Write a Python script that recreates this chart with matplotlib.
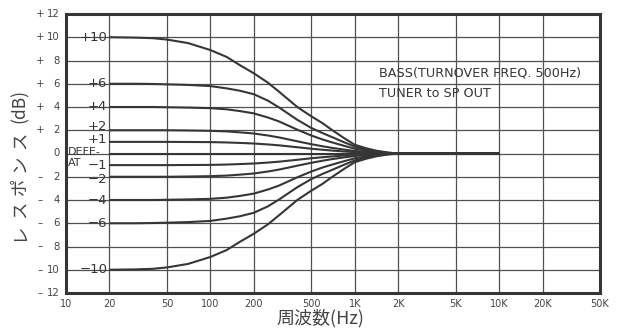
import matplotlib
matplotlib.use("Agg")
import matplotlib.pyplot as plt

# Bass tone-control response, turnover 500 Hz, TUNER -> SP OUT
freqs = [20, 30, 40, 50, 70, 100, 130, 160, 200, 250, 300, 400, 500, 600,
         700, 850, 1000, 1200, 1400, 1700, 2000, 10000]
boost_10 = [10, 9.97, 9.92, 9.8, 9.5, 8.9, 8.3, 7.6, 6.9, 6.1, 5.3, 4.0, 3.2, 2.6,
            2.0, 1.3, 0.75, 0.45, 0.25, 0.08, 0, 0]
boost_6 = [6, 6, 5.98, 5.95, 5.9, 5.8, 5.6, 5.4, 5.1, 4.55, 3.95, 2.9, 2.2, 1.75,
           1.4, 0.95, 0.6, 0.35, 0.18, 0.06, 0, 0]
boost_4 = [4, 4, 4, 3.98, 3.95, 3.9, 3.8, 3.65, 3.45, 3.1, 2.75, 2.05, 1.55, 1.2,
           0.95, 0.65, 0.42, 0.25, 0.13, 0.04, 0, 0]
boost_2 = [2, 2, 2, 2, 1.98, 1.95, 1.9, 1.82, 1.72, 1.55, 1.38, 1.05, 0.8, 0.62,
           0.48, 0.33, 0.22, 0.13, 0.07, 0.02, 0, 0]
boost_1 = [1, 1, 1, 1, 0.99, 0.98, 0.95, 0.91, 0.86, 0.78, 0.7, 0.54, 0.41, 0.32,
           0.25, 0.17, 0.11, 0.07, 0.04, 0.01, 0, 0]
defeat = [0, 0, 0, 0, 0, 0, 0, 0, 0, 0, 0, 0, 0, 0, 0, 0, 0, 0, 0, 0, 0, 0]
cut_1 = [-1, -1, -1, -1, -0.99, -0.98, -0.95, -0.91, -0.86, -0.78, -0.7, -0.54, -0.41,
         -0.32, -0.25, -0.17, -0.11, -0.07, -0.04, -0.01, 0, 0]
cut_2 = [-2, -2, -2, -2, -1.98, -1.95, -1.9, -1.82, -1.72, -1.55, -1.38, -1.05, -0.8,
         -0.62, -0.48, -0.33, -0.22, -0.13, -0.07, -0.02, 0, 0]
cut_4 = [-4, -4, -4, -3.98, -3.95, -3.9, -3.8, -3.65, -3.45, -3.1, -2.75, -2.05, -1.55,
         -1.2, -0.95, -0.65, -0.42, -0.25, -0.13, -0.04, 0, 0]
cut_6 = [-6, -6, -5.98, -5.95, -5.9, -5.8, -5.6, -5.4, -5.1, -4.55, -3.95, -2.9, -2.2,
         -1.75, -1.4, -0.95, -0.6, -0.35, -0.18, -0.06, 0, 0]
cut_10 = [-10, -9.97, -9.92, -9.8, -9.5, -8.9, -8.3, -7.6, -6.9, -6.1, -5.3, -4.0, -3.2,
          -2.6, -2.0, -1.3, -0.75, -0.45, -0.25, -0.08, 0, 0]
curves = [boost_10, boost_6, boost_4, boost_2, boost_1, defeat,
          cut_1, cut_2, cut_4, cut_6, cut_10]

# curve labels and their vertical positions (dB)
label_text = ["+10", "+6", "+4", "+2", "+1", "\u22121", "\u22122", "\u22124", "\u22126", "\u221210"]
label_pos = [10, 6, 4, 2.35, 1.2, -1, -2.2, -4, -6, -10]

x_ticks = [10, 20, 50, 100, 200, 500, 1000, 2000, 5000, 10000, 20000, 50000]
x_ticklabels = ["10", "20", "50", "100", "200", "500", "1K", "2K", "5K", "10K", "20K", "50K"]
y_ticks = [12, 10, 8, 6, 4, 2, 0, -2, -4, -6, -8, -10, -12]

ink = "#363636"
grid = "#505050"
textc = "#444444"
cjk = ["Noto Sans CJK JP", "DejaVu Sans"]

plt.rcParams["font.family"] = ["DejaVu Sans", "Noto Sans CJK JP"]

fig = plt.figure(figsize=(6.21, 3.34), dpi=100)
ax = fig.add_axes([66 / 621, 1 - 293 / 334, 534 / 621, 279 / 334])
ax.set_xscale("log")
ax.set_xlim(10, 50000)
ax.set_ylim(-12, 12)

for xv in x_ticks[1:-1]:
    ax.axvline(xv, color=grid, lw=0.9, zorder=1)
for yv in y_ticks[1:-1]:
    ax.axhline(yv, color=grid, lw=0.9, zorder=1)

for vals in curves:
    ax.plot(freqs, vals, color=ink, lw=1.5, zorder=3, solid_capstyle="butt")

# curve labels, right-aligned just left of the 20 Hz line
for t, y in zip(label_text, label_pos):
    ax.text(19.3, y, t, ha="right", va="center", fontsize=9.5, color=ink, zorder=4)
ax.text(10.3, 0.1, "DEFE-", ha="left", va="center", fontsize=8, color=ink, zorder=4)
ax.text(10.3, -0.8, "AT", ha="left", va="center", fontsize=8, color=ink, zorder=4)

ax.text(1480, 6.95, "BASS(TURNOVER FREQ. 500Hz)", fontsize=9.2, color=ink,
        ha="left", va="center")
ax.text(1480, 5.2, "TUNER to SP OUT", fontsize=9.2, color=ink,
        ha="left", va="center")

ax.set_xticks(x_ticks)
ax.set_xticklabels(x_ticklabels, fontsize=7, color=textc)
ax.xaxis.set_minor_locator(matplotlib.ticker.NullLocator())
ax.tick_params(axis="x", length=0, pad=4)
ax.set_yticks(y_ticks)
ax.set_yticklabels([])
ax.tick_params(axis="y", length=0)

# y tick labels: sign and magnitude drawn separately
ytr = ax.get_yaxis_transform()
for yv in y_ticks:
    ax.text(-0.0112, yv, str(abs(yv)), transform=ytr,
            ha="right", va="center", fontsize=7.3, color=textc)
    if yv != 0:
        ax.text(-0.049, yv, "+" if yv > 0 else "\u2013", transform=ytr,
                ha="center", va="center", fontsize=7.3, color=textc)

for sp in ax.spines.values():
    sp.set_linewidth(2.2)
    sp.set_color(ink)

# vertical axis title, kana spaced out, unit kept together
ylab_chars = ["レ", "ス", "ポ", "ン", "ス", "(dB)"]
ylab_y = [232, 209, 186, 163, 140, 106]
for ch, yp in zip(ylab_chars, ylab_y):
    fig.text(20 / 621, 1 - yp / 334, ch, rotation=90, ha="center", va="center",
             fontsize=12.5, color=textc, family=cjk)

fig.text(320 / 621, 1 - 318 / 334, "周波数(Hz)", ha="center", va="center",
         fontsize=13, color=textc, family=cjk)

fig.savefig("out.png", dpi=100, facecolor="white")
